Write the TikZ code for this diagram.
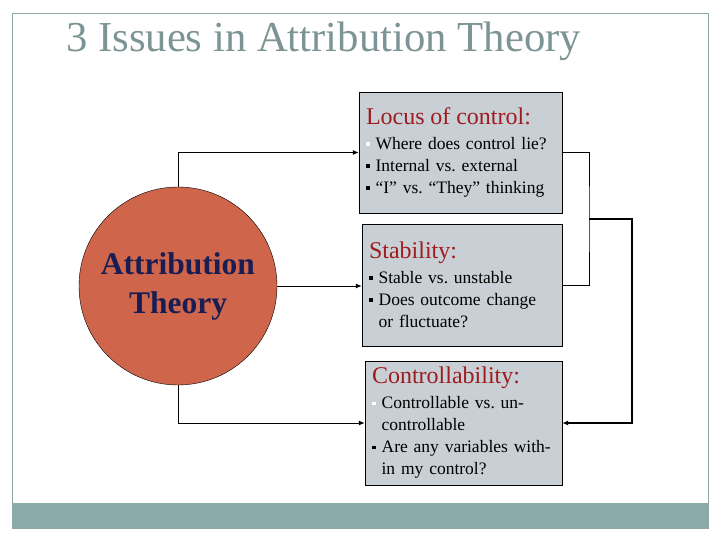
\documentclass[tikz,border=0pt]{standalone}
\usepackage{fontspec}
\setmainfont{Liberation Serif}
\usetikzlibrary{arrows.meta}
\definecolor{framegray}{RGB}{140,165,165}
\definecolor{bandteal}{RGB}{139,170,170}
\definecolor{titlegray}{RGB}{125,148,148}
\definecolor{circfill}{RGB}{207,101,74}
\definecolor{boxfill}{RGB}{200,208,214}
\definecolor{headred}{RGB}{158,28,30}
\definecolor{navy}{RGB}{24,30,84}
\frenchspacing
\newcommand{\blt}{\rule[0.22em]{0.2em}{0.2em}\hspace{0.35em}}
\newcommand{\wblt}{\textcolor{white}{\rule[0.22em]{0.2em}{0.2em}}\hspace{0.35em}}
\newcommand{\hd}[1]{{\fontsize{24}{28}\selectfont\color{headred}#1}}
\tikzset{
  issue/.style={draw, fill=boxfill, rectangle, align=left, inner sep=0pt,
    font=\fontsize{17.5}{22}\selectfont},
  link/.style={-{Latex[length=6pt,width=5pt]}, line width=1pt}
}
\begin{document}
\begin{tikzpicture}[x=1pt, y=-1pt]
                \useasboundingbox (0,0) rectangle (720,540);
                \draw[framegray, line width=0.8pt] (12,13) rectangle (708,528);
                \fill[bandteal] (12,503) rectangle (708,528);
                \node[anchor=base west, text=titlegray, font=\fontsize{42.7}{50}\selectfont, inner sep=0pt] (title) at (66,52) {3 Issues in Attribution Theory};
                \node at (178,286) [draw, circle, fill=circfill, minimum size=198pt, inner sep=0pt, align=center, text=navy, font=\fontsize{31.5}{39}\selectfont\bfseries] (circ) {Attribution\\Theory};
                \node at (460.5,152.5) [issue, minimum width=203pt, minimum height=121pt, text width=189pt] (locus) {\hd{Locus of control:}\\[3pt]
                    \wblt Where does control lie?\\
                    \blt Internal vs. external\\
                    \blt ``I'' vs. ``They'' thinking};
                \node at (462,285) [issue, minimum width=200pt, minimum height=122pt, text width=186pt] (stab) {\hd{Stability:}\\[3pt]
                    \blt Stable vs. unstable\\
                    \blt Does outcome change\\
                    \hspace*{0.55em}or fluctuate?};
                \node at (463.5,423) [issue, minimum width=197pt, minimum height=124pt, text width=183pt] (contr) {\hd{Controllability:}\\[3pt]
                    \wblt Controllable vs. un-\\
                    \hspace*{0.55em}controllable\\
                    \blt Are any variables with-\\
                    \hspace*{0.55em}in my control?};
                % circle to the three issues
                \draw[link] (circ.north) |- (locus.west);
                \draw[link] (circ.east) -- (circ.east -| stab.west);
                \draw[link] (circ.south) |- (contr.west);
                % bracket on the right
                \coordinate (join) at (589,219);
                \draw[line width=1pt] (locus.east) -| (join) |- (stab.east);
                \draw[link, line width=1.6pt] (join) -- (632,219) |- (contr.east);
            \end{tikzpicture}
\end{document}
